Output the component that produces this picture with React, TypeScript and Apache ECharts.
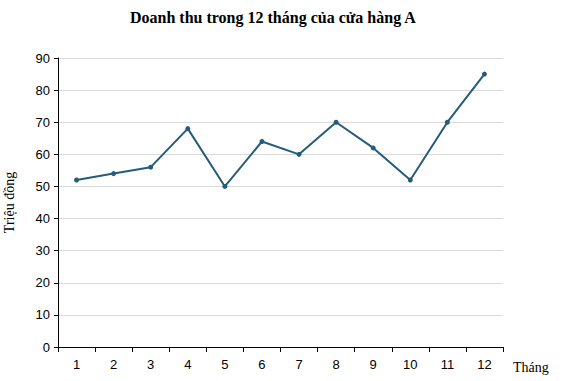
import React, { useEffect, useRef } from "react";
import * as echarts from "echarts";

const months = ["1", "2", "3", "4", "5", "6", "7", "8", "9", "10", "11", "12"];
const revenue = [52, 54, 56, 68, 50, 64, 60, 70, 62, 52, 70, 85];
const yTicks = { min: 0, max: 90, interval: 10 };

export default function App() {
  const ref = useRef<HTMLDivElement>(null);
  useEffect(() => {
    if (!ref.current) return;
    const chart = echarts.init(ref.current, null, { renderer: "svg" });
    chart.setOption({
      animation: false,
      backgroundColor: "#ffffff",
      title: {
        text: "Doanh thu trong 12 tháng của cửa hàng A",
        left: 125,
        top: 4,
        textStyle: { fontFamily: "Liberation Serif", fontWeight: "bold", fontSize: 16, color: "#000" },
      },
      grid: { left: 58, right: 59, top: 58, bottom: 34, containLabel: false, outerBoundsMode: "none" },
      xAxis: {
        type: "category",
        data: months,
        boundaryGap: true,
        name: "Tháng",
        nameLocation: "end",
        nameGap: 10,
        nameTextStyle: {
          fontFamily: "Liberation Serif",
          fontSize: 14,
          color: "#000",
          verticalAlign: "top",
          padding: [13, 0, 0, 0],
        },
        axisLine: { lineStyle: { color: "#000", width: 1 } },
        axisTick: { show: true, length: 5, lineStyle: { color: "#000" } },
        axisLabel: { fontFamily: "Liberation Sans", fontSize: 13, color: "#000", margin: 11 },
        splitLine: { show: false },
      },
      yAxis: {
        type: "value",
        min: yTicks.min,
        max: yTicks.max,
        interval: yTicks.interval,
        name: "Triệu đồng",
        nameLocation: "middle",
        nameGap: 42,
        nameTextStyle: { fontFamily: "Liberation Serif", fontSize: 14, color: "#000" },
        axisLine: { show: true, lineStyle: { color: "#000", width: 1 } },
        axisTick: { show: true, length: 4, lineStyle: { color: "#000" } },
        axisLabel: { fontFamily: "Liberation Sans", fontSize: 13, color: "#000", margin: 8 },
        splitLine: { show: true, lineStyle: { color: "#d9d9d9", width: 1 } },
      },
      series: [
        {
          type: "line",
          data: revenue,
          symbol: "circle",
          symbolSize: 5,
          lineStyle: { color: "#245c7a", width: 2 },
          itemStyle: { color: "#245c7a" },
        },
      ],
    });
    return () => chart.dispose();
  }, []);
  return (
    <div
      ref={ref}
      style={{ position: "absolute", left: 0, top: 0, width: 562, height: 381 }}
    />
  );
}
